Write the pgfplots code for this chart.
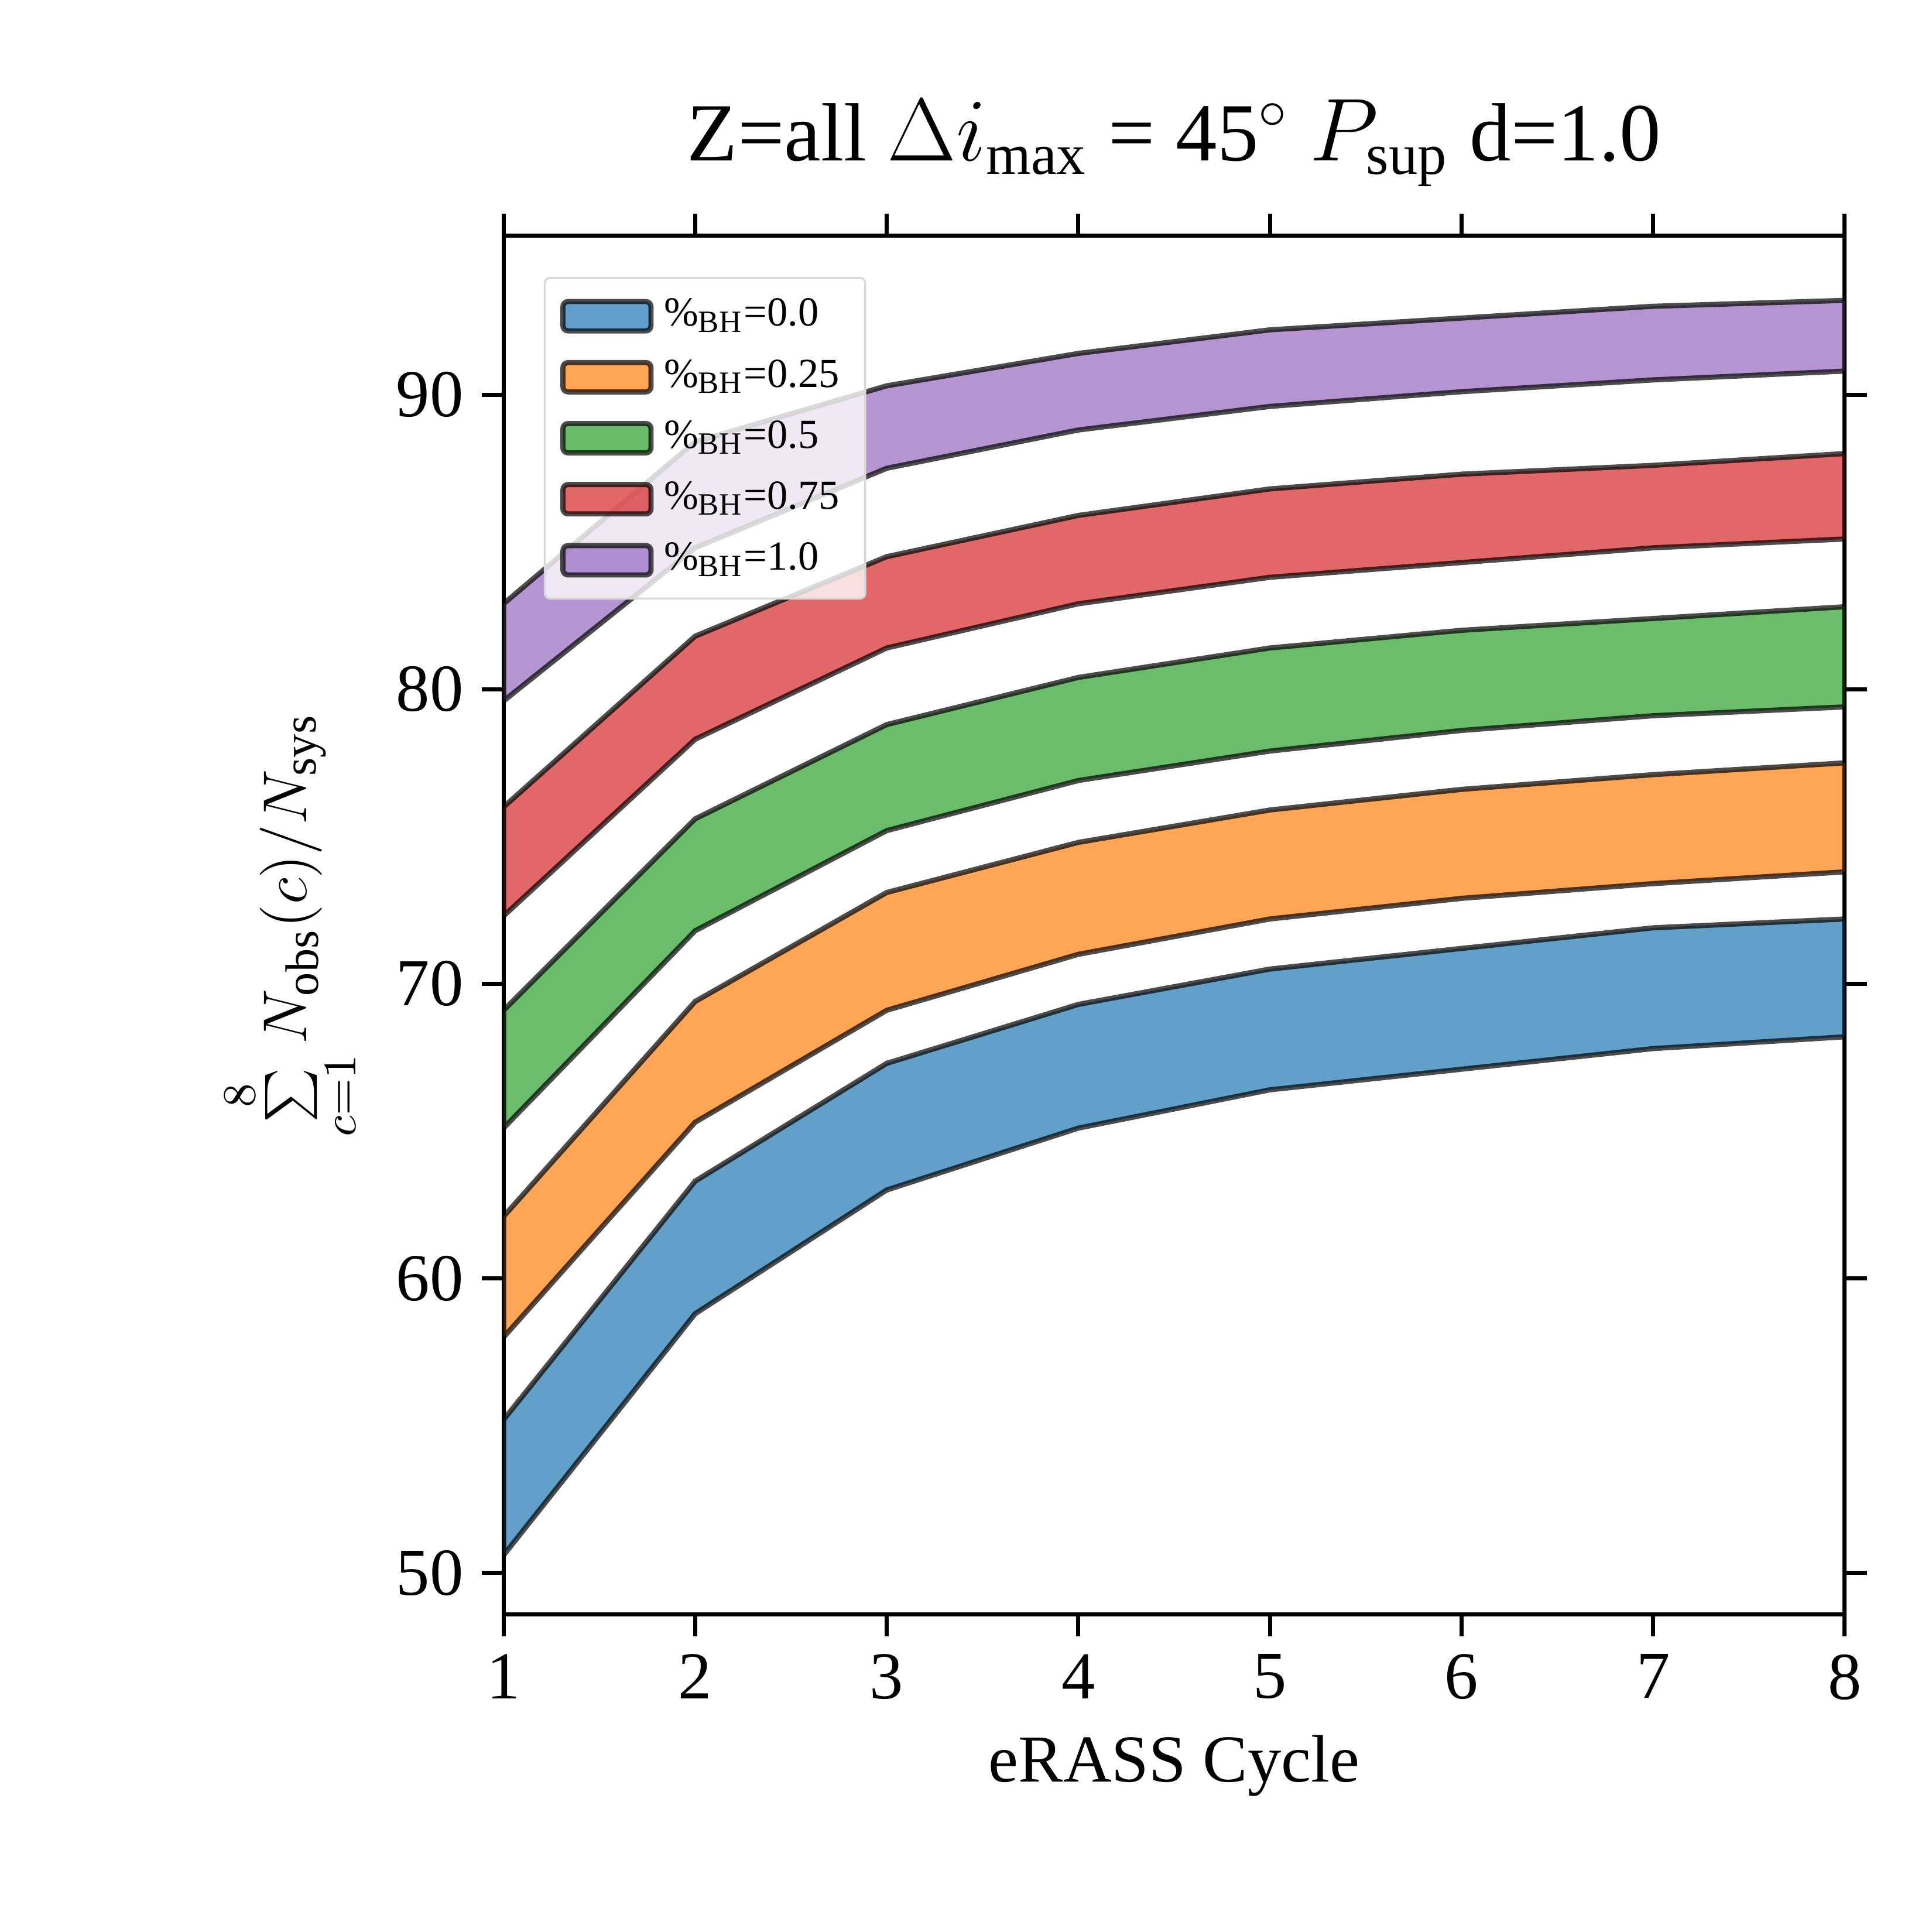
\documentclass[border=0pt]{standalone}
\usepackage{pgfplots}
\pgfplotsset{compat=1.18}
\usepackage{fontspec}
\setmainfont{Liberation Serif}
\definecolor{c0}{HTML}{1F77B4}
\definecolor{c1}{HTML}{FF7F0E}
\definecolor{c2}{HTML}{2CA02C}
\definecolor{c3}{HTML}{D62728}
\definecolor{c4}{HTML}{9467BD}
\begin{document}
\begin{tikzpicture}[x=1pt,y=1pt]
\def\u{0.2415}
\path[use as bounding box] (-404*\u,-255*\u) rectangle (1146*\u,1295*\u);
\begin{axis}[at={(0,0)},anchor=south west,scale only axis,
 width=1076*\u pt, height=1106*\u pt,
 xmin=1,xmax=8,ymin=48.6,ymax=95.4,
 xtick={1,...,8}, ytick={50,60,70,80,90},
 tick align=outside, tick style={black,thick}, axis line style={thick},
 /pgf/number format/assume math mode=true,
 ticklabel style={font=\fontsize{13}{15}\selectfont},
 xlabel={eRASS Cycle}, xlabel style={font=\fontsize{13}{15}\selectfont},
 ylabel={$\sum\limits_{c=1}^{8} N_\mathrm{obs}(c)/N_\mathrm{sys}$},
 ylabel style={font=\fontsize{13}{15}\selectfont},
 title={Z=all $\Delta i_\mathrm{max}$ = 45$^\circ$ $P_\mathrm{sup}$ d=1.0},
 title style={font=\fontsize{16}{18}\selectfont},
 legend pos=north west,
 legend style={font=\fontsize{8}{9}\selectfont, draw=black!15, fill=white, fill opacity=0.8, text opacity=1, rounded corners=1pt, row sep=1pt},
 legend cell align=left,
 area legend,
 every axis plot/.append style={draw=black, draw opacity=0.7, fill opacity=0.7, line width=1pt},
]
\addplot[fill=c0] coordinates {(1,50.6)(2,58.8)(3,63.0)(4,65.1)(5,66.4)(6,67.1)(7,67.8)(8,68.2)(8,72.2)(7,71.9)(6,71.2)(5,70.5)(4,69.3)(3,67.3)(2,63.3)(1,55.2)} --cycle;
\addlegendentry{\%$_\mathrm{BH}$=0.0}
\addplot[fill=c1] coordinates {(1,58.0)(2,65.3)(3,69.1)(4,71.0)(5,72.2)(6,72.9)(7,73.4)(8,73.8)(8,77.5)(7,77.1)(6,76.6)(5,75.9)(4,74.8)(3,73.1)(2,69.4)(1,62.1)} --cycle;
\addlegendentry{\%$_\mathrm{BH}$=0.25}
\addplot[fill=c2] coordinates {(1,65.1)(2,71.8)(3,75.2)(4,76.9)(5,77.9)(6,78.6)(7,79.1)(8,79.4)(8,82.8)(7,82.4)(6,82.0)(5,81.4)(4,80.4)(3,78.8)(2,75.6)(1,69.1)} --cycle;
\addlegendentry{\%$_\mathrm{BH}$=0.5}
\addplot[fill=c3] coordinates {(1,72.3)(2,78.3)(3,81.4)(4,82.9)(5,83.8)(6,84.3)(7,84.8)(8,85.1)(8,88.0)(7,87.6)(6,87.3)(5,86.8)(4,85.9)(3,84.5)(2,81.8)(1,76.0)} --cycle;
\addlegendentry{\%$_\mathrm{BH}$=0.75}
\addplot[fill=c4] coordinates {(1,79.6)(2,84.8)(3,87.5)(4,88.8)(5,89.6)(6,90.1)(7,90.5)(8,90.8)(8,93.2)(7,93.0)(6,92.6)(5,92.2)(4,91.4)(3,90.3)(2,88.4)(1,82.9)} --cycle;
\addlegendentry{\%$_\mathrm{BH}$=1.0}
\end{axis}
\end{tikzpicture}
\end{document}
